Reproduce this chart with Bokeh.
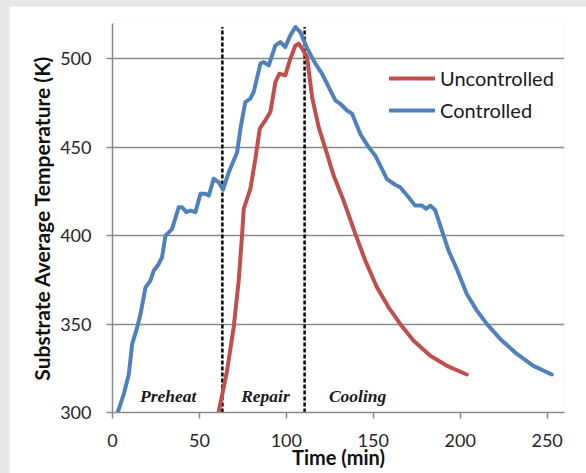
from bokeh.plotting import figure
from bokeh.models import Range1d, FixedTicker, Legend, LegendItem
from bokeh.layouts import column
from bokeh.core.properties import value
from bokeh.embed import file_html
from bokeh.resources import INLINE

# ---- data ----
controlled_t = [3.0, 6.5, 9.4, 11.3, 14.2, 16.1, 19.0, 21.8, 23.7, 26.6, 28.5, 30.5, 32.4, 34.3,
                38.1, 40.0, 42.5, 44.8, 47.7, 50.6, 53.4, 55.4, 58.2, 61.1, 63.6, 66.9, 71.7,
                73.6, 76.4, 79.3, 81.2, 85.1, 87.0, 89.9, 93.7, 96.6, 99.4, 102.3, 105.2, 108.0,
                111.7, 116.7, 120.5, 123.4, 128.2, 131.0, 134.9, 137.8, 142.5, 147.3, 151.1,
                157.9, 162.6, 165.5, 170.3, 174.1, 178.0, 180.5, 182.8, 185.6, 189.5, 193.3,
                198.1, 203.8, 209.6, 215.3, 223.0, 232.6, 242.1, 252.7]
controlled_T = [300.0, 310.4, 321.7, 338.7, 348.1, 355.7, 370.8, 374.6, 380.2, 384.0, 387.8, 400.1,
                401.9, 403.9, 416.1, 416.1, 413.3, 414.2, 413.3, 423.7, 423.7, 422.7, 432.2, 430.2,
                426.0, 435.9, 447.2, 460.5, 475.5, 477.5, 481.2, 497.3, 498.2, 496.3, 507.6, 509.5,
                506.7, 513.3, 518.0, 515.2, 506.5, 497.3, 491.6, 486.0, 476.5, 474.6, 470.8, 469.0,
                457.6, 450.1, 445.4, 432.0, 428.8, 427.4, 421.7, 417.0, 417.0, 415.2, 417.0, 414.5,
                402.9, 391.6, 381.0, 367.0, 357.6, 350.1, 341.6, 333.1, 326.4, 321.5]

uncontrolled_t = [61.0, 65.9, 69.7, 72.6, 74.5, 75.5, 79.3, 82.2, 84.7, 87.9, 90.8, 93.7, 96.0,
                  99.4, 102.3, 105.2, 107.1, 108.5, 111.9, 114.8, 118.6, 123.4, 127.2, 132.9,
                  139.7, 145.4, 152.1, 158.8, 165.5, 173.2, 182.8, 192.4, 203.8]
uncontrolled_T = [300.0, 323.6, 348.1, 374.6, 400.0, 415.2, 426.5, 443.5, 460.5, 465.2, 469.9,
                  486.9, 491.6, 490.7, 500.1, 507.6, 508.6, 506.7, 501.0, 478.4, 461.4, 446.3,
                  434.0, 419.9, 401.0, 385.9, 370.8, 359.5, 350.1, 340.6, 332.1, 326.4, 321.5]

phase_bounds = [63.2, 110.5]
phase_names = ["Preheat", "Repair", "Cooling"]

x_ticks = [0, 50, 100, 150, 200, 250]
y_ticks = [300, 350, 400, 450, 500]

FONT = "Lato"

p = figure(width=577, height=467, output_backend="svg", toolbar_location=None,
           x_range=Range1d(0, 260), y_range=Range1d(300, 520),
           min_border_left=103, min_border_right=22, min_border_top=17, min_border_bottom=61)
p.outline_line_color = None
p.background_fill_color = "white"
p.border_fill_color = "white"

grid_col = "#8a8a8a"
p.xgrid.grid_line_color = None
p.ygrid.grid_line_color = grid_col
p.ygrid.grid_line_width = 1.5
p.ygrid.ticker = FixedTicker(ticks=y_ticks)

for ax in (p.xaxis[0], p.yaxis[0]):
    ax.axis_line_color = grid_col
    ax.axis_line_width = 1.5
    ax.major_tick_line_color = grid_col
    ax.major_tick_line_width = 1.5
    ax.major_tick_out = 6
    ax.major_tick_in = 0
    ax.minor_tick_line_color = None
    ax.major_label_text_font = FONT
    ax.major_label_text_font_size = "18px"
    ax.major_label_text_color = "#262626"
    ax.axis_label_text_font = FONT
    ax.axis_label_text_font_style = "bold"
    ax.axis_label_text_color = "#111111"

p.xaxis.ticker = FixedTicker(ticks=x_ticks)
p.yaxis.ticker = FixedTicker(ticks=y_ticks)
p.xaxis.axis_label = "Time (min)"
p.yaxis.axis_label = "Substrate Average Temperature (K)"
p.xaxis.axis_label_text_font_size = "20px"
p.yaxis.axis_label_text_font_size = "21px"
p.xaxis.major_label_standoff = 15
p.yaxis.major_label_standoff = 15
p.xaxis.axis_label_standoff = -5
p.yaxis.axis_label_standoff = 3

# phase boundaries
p.segment(x0=phase_bounds, y0=[300] * len(phase_bounds), x1=phase_bounds,
          y1=[518] * len(phase_bounds), line_color="black", line_width=2.5, line_dash="4 2")

r_unc = p.line(uncontrolled_t, uncontrolled_T, line_color="#c0504d", line_width=4,
               line_join="round", line_cap="round")
r_con = p.line(controlled_t, controlled_T, line_color="#4f81bd", line_width=4,
               line_join="round", line_cap="round")

# phase labels
label_x = [32, 88, 141]
p.text(x=label_x, y=[309.5] * 3, text=phase_names, text_font=value("Liberation Serif"),
       text_font_style="bold italic", text_font_size="17.5px", text_align="center",
       text_baseline="middle", text_color="#1a1a1a")

legend = Legend(items=[LegendItem(label="Uncontrolled", renderers=[r_unc]),
                       LegendItem(label="Controlled", renderers=[r_con])],
                location=(277, 290), orientation="vertical",
                glyph_width=46, glyph_height=20, label_height=20, label_standoff=5,
                spacing=8, padding=0, margin=0,
                border_line_color=None, background_fill_alpha=0,
                label_text_font=FONT, label_text_font_size="20px",
                label_text_color="#1a1a1a")
p.add_layout(legend)

page = column(p, styles={"padding-top": "6px", "padding-left": "9px",
                         "background-color": "#e8e8e8"})

open("out.html", "w").write(file_html(page, INLINE))
